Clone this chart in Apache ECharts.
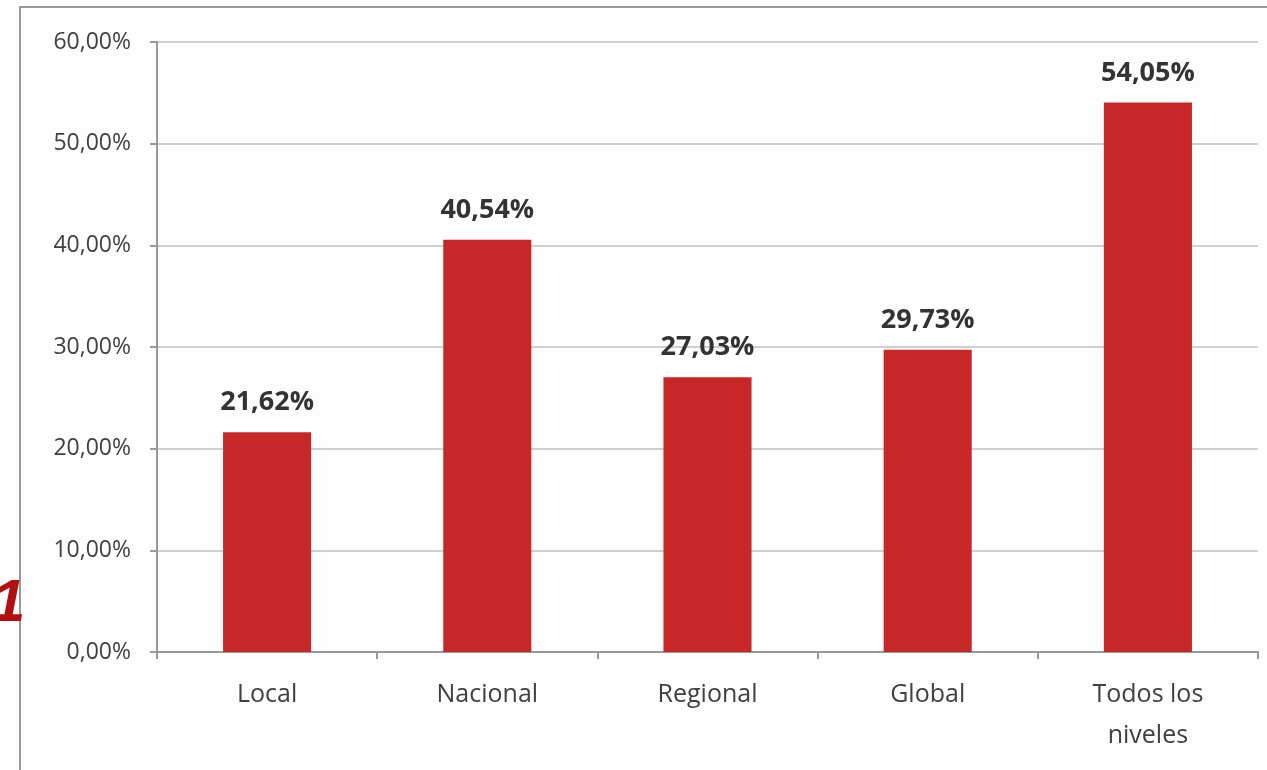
<!DOCTYPE html>
<html>
<head>
<meta charset="utf-8">
<script src="https://cdn.jsdelivr.net/npm/echarts@6/dist/echarts.min.js"></script>
<style>
html,body{margin:0;padding:0;background:#fff;}
#chart{width:1267px;height:770px;}
</style>
</head>
<body>
<div id="chart"></div>
<script>
const categories = ['Local', 'Nacional', 'Regional', 'Global', 'Todos los\nniveles'];
const values = [21.62, 40.54, 27.03, 29.73, 54.05];
const yTicks = [0, 10, 20, 30, 40, 50, 60];

const fmt = v => v.toFixed(2).replace('.', ',') + '%';
const chart = echarts.init(document.getElementById('chart'));
chart.setOption({
  backgroundColor: '#fdfdfd',
  animation: false,
  textStyle: { fontFamily: 'Open Sans' },
  graphic: [
    { type: 'rect', shape: { x: 20, y: 7, width: 1300, height: 820 },
      style: { fill: 'none', stroke: '#999', lineWidth: 2 }, silent: true },
    { type: 'text', left: -8, top: 574,
      style: { text: '1', fill: '#b01010', font: 'italic bold 60px "Liberation Sans"' } }
  ],
  grid: { left: 157, right: 9, top: 42, bottom: 118, containLabel: false },
  xAxis: {
    type: 'category',
    data: categories,
    axisLine: { lineStyle: { color: '#999', width: 2 } },
    axisTick: { show: true, length: 7, lineStyle: { color: '#999', width: 2 } },
    axisLabel: { color: '#404040', fontSize: 25, margin: 22, lineHeight: 41 }
  },
  yAxis: {
    type: 'value',
    min: 0, max: 60, interval: 10,
    axisLine: { show: true, lineStyle: { color: '#999', width: 2 } },
    axisTick: { show: true, length: 7, lineStyle: { color: '#999', width: 2 } },
    splitLine: { lineStyle: { color: '#cfcfcf', width: 2 } },
    axisLabel: { color: '#404040', fontSize: 23, margin: 26, formatter: v => fmt(v) }
  },
  series: [{
    type: 'bar',
    data: values,
    barWidth: '40%',
    itemStyle: { color: '#c62828' },
    label: {
      show: true, position: 'top', distance: 16,
      color: '#333', fontSize: 27, fontWeight: 'bold',
      formatter: p => fmt(p.value)
    }
  }]
});
</script>
</body>
</html>
